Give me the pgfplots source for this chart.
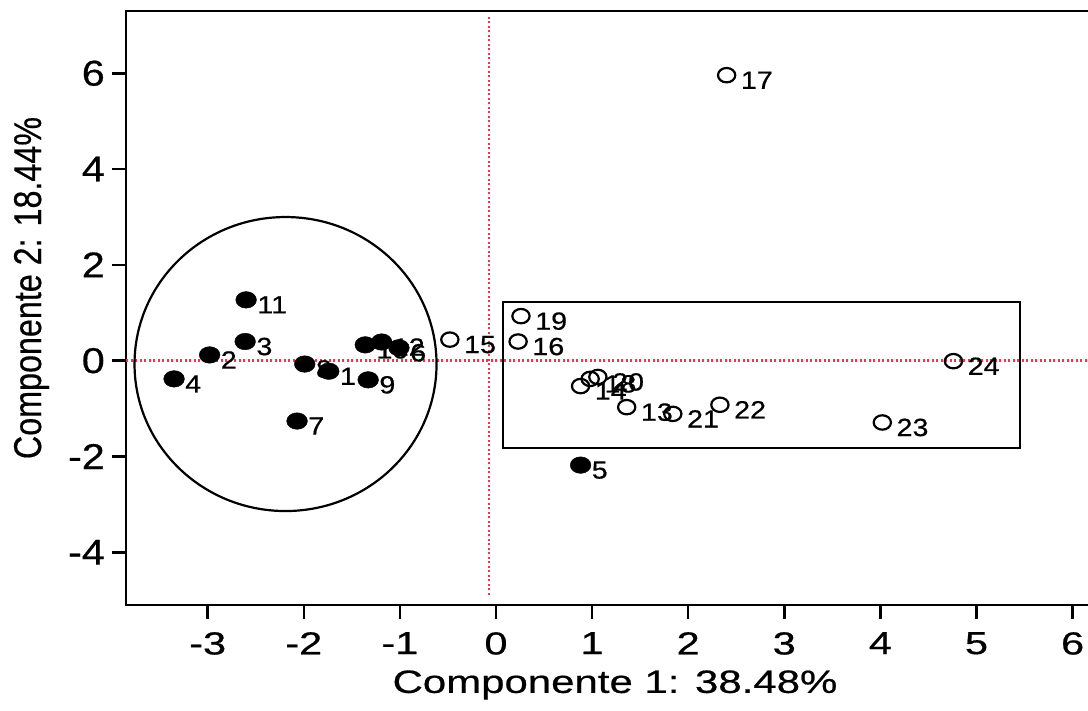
\documentclass[border=0pt]{standalone}
\usepackage{fontspec}
\setmainfont{Liberation Sans}[FakeBold=0.5]
\usepackage{pgfplots}
\pgfplotsset{compat=1.18}
\definecolor{refline}{RGB}{240,50,90}

\begin{document}
\begin{tikzpicture}[x=1bp,y=1bp]
\useasboundingbox (0,0) rectangle (1088,711);
\begin{axis}[
  at={(126bp,106bp)}, anchor=south west,
  scale only axis, width=970.6bp, height=594bp,
  xmin=-3.85, xmax=6.25, ymin=-5.10, ymax=7.30,
  clip=false,
  axis line style={line width=2.5bp},
  tick style={line width=2.5bp, black},
  major tick length=14bp,
  tick align=outside,
  xtick pos=bottom, ytick pos=left,
  xtick={-3,-2,-1,0,1,2,3,4,5,6},
  xticklabels={-3,-2,-1,0,1,2,3,4,5,6},
  ytick={-4,-2,0,2,4,6},
  yticklabels={-4,-2,0,2,4,6},
  xticklabel style={font=\fontsize{32}{32}\selectfont, inner sep=0pt, xscale=1.3},
  yticklabel style={font=\fontsize{36}{36}\selectfont, inner sep=0pt, xscale=1.15},
  xticklabel shift=13bp,
  yticklabel shift=7bp,
]
% reference lines
\draw[refline, line width=2.4bp, dash pattern=on 2.2bp off 2.3bp] (axis cs:-3.85,0) -- (axis cs:6.25,0);
\draw[refline, line width=2.4bp, dash pattern=on 2.2bp off 2.3bp] (axis cs:-0.07,-4.89) -- (axis cs:-0.07,7.18);
% groupings
\draw[line width=2.2bp] (axis cs:0.07,-1.83) rectangle (axis cs:5.45,1.23);
\draw[line width=2.2bp] (axis cs:-2.19,-0.07) ellipse [x radius=151bp, y radius=147bp];

% filled points
\addplot[only marks, mark=*, mark size=8.3bp, mark options={xscale=1.25, fill=black, draw=black},
  nodes near coords, point meta=explicit symbolic,
  nodes near coords style={anchor=west, inner sep=0pt, xshift=11bp, yshift=-5bp,
    font=\fontsize{25}{25}\selectfont, xscale=1.15}]
table[meta=lab] {
x y lab
-1.74 -0.22 1
-2.98 0.12 2
-2.61 0.40 3
-3.35 -0.38 4
0.88 -2.18 5
-1.01 0.27 6
-2.07 -1.26 7
-1.99 -0.07 8
-1.33 -0.40 9
-1.36 0.33 10
-2.60 1.27 11
-1.19 0.39 12
};

% open points
\addplot[only marks, mark=o, mark size=7.2bp, mark options={xscale=1.2, line width=2.2bp, draw=black},
  nodes near coords, point meta=explicit symbolic,
  nodes near coords style={anchor=west, inner sep=0pt, xshift=13bp, yshift=-5bp,
    font=\fontsize{25}{25}\selectfont, xscale=1.15}]
table[meta=lab] {
x y lab
1.36 -0.97 13
0.88 -0.53 14
-0.48 0.44 15
0.23 0.40 16
2.40 5.96 17
0.98 -0.38 18
0.26 0.93 19
1.06 -0.34 20
1.84 -1.11 21
2.33 -0.92 22
4.02 -1.29 23
4.76 -0.01 24
};
\end{axis}
\node[font=\fontsize{32.4}{33}\selectfont, rotate=90] at (31.5,423) {\scalebox{1}[1.2]{Componente 2: 18.44\%}};
\node[font=\fontsize{32.4}{33}\selectfont, xscale=1.3] at (615,26) {Componente 1: 38.48\%};
\end{tikzpicture}
\end{document}
